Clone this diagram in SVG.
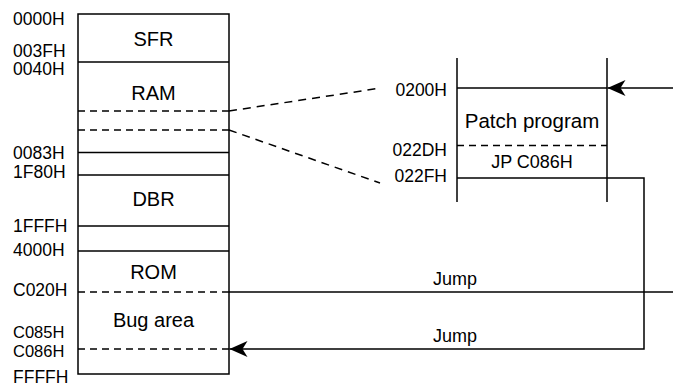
<svg xmlns="http://www.w3.org/2000/svg" width="673" height="387" viewBox="0 0 673 387">
<style>
  text { font-family: "Liberation Sans", Arial, sans-serif; fill: #000; }
  .addr { font-size: 17.5px; }
  .tight { font-size: 16.5px; }
  .blk { font-size: 20px; text-anchor: middle; }
  .lbl { font-size: 18px; text-anchor: middle; }
  .pa { font-size: 17.5px; text-anchor: end; }
  .ln { stroke: #000; stroke-width: 1.5; fill: none; }
  .dash { stroke: #000; stroke-width: 1.5; fill: none; stroke-dasharray: 7,5; }
  .sdash { stroke: #000; stroke-width: 1.5; fill: none; stroke-dasharray: 8,6; }
</style>
<defs>
  <marker id="arr" markerUnits="userSpaceOnUse" viewBox="-20 -10 22 20" markerWidth="22" markerHeight="20" refX="0" refY="0" orient="auto">
    <path d="M0,0 L-18,-8 L-13,0 L-18,8 Z" fill="#000"/>
  </marker>
</defs>
<rect width="673" height="387" fill="#fff"/>

<g id="memory-map">
  <rect class="ln" x="78" y="14" width="151" height="360"/>
  <line class="ln" x1="78" y1="62" x2="229" y2="62"/>
  <line class="dash" x1="78" y1="111" x2="229" y2="111"/>
  <line class="dash" x1="78" y1="130" x2="229" y2="130"/>
  <line class="ln" x1="78" y1="152.5" x2="229" y2="152.5"/>
  <line class="ln" x1="78" y1="175" x2="229" y2="175"/>
  <line class="ln" x1="78" y1="226" x2="229" y2="226"/>
  <line class="ln" x1="78" y1="251" x2="229" y2="251"/>
  <line class="dash" x1="78" y1="292" x2="229" y2="292"/>
  <line class="dash" x1="78" y1="349" x2="229" y2="349"/>
  <text class="blk" x="153.5" y="46">SFR</text>
  <text class="blk" x="153.5" y="100">RAM</text>
  <text class="blk" x="153.5" y="206">DBR</text>
  <text class="blk" x="153.5" y="279">ROM</text>
  <text class="blk" x="153.5" y="326.5">Bug area</text>
  <text class="addr" x="13" y="25">0000H</text>
  <text class="addr" x="13" y="57">003FH</text>
  <text class="addr" x="13" y="75">0040H</text>
  <text class="addr" x="13" y="159">0083H</text>
  <text class="addr" x="13" y="178">1F80H</text>
  <text class="addr" x="13" y="231.5">1FFFH</text>
  <text class="addr" x="13" y="255.5">4000H</text>
  <text class="addr" x="13" y="296">C020H</text>
  <text class="tight" x="13" y="338">C085H</text>
  <text class="tight" x="13" y="357">C086H</text>
  <text class="addr" x="13" y="382.5">FFFFH</text>
</g>

<g id="patch-program">
  <line class="ln" x1="457" y1="58" x2="457" y2="202"/>
  <line class="ln" x1="607" y1="58" x2="607" y2="202"/>
  <line class="ln" x1="457" y1="88" x2="607" y2="88"/>
  <line class="dash" x1="457" y1="145.5" x2="607" y2="145.5"/>
  <line class="ln" x1="457" y1="178" x2="607" y2="178"/>
  <text class="blk" x="532" y="127.5" style="font-size:20.5px">Patch program</text>
  <text class="lbl" x="532" y="167.5">JP C086H</text>
  <text class="pa" x="447" y="96">0200H</text>
  <text class="pa" x="447" y="156">022DH</text>
  <text class="pa" x="447" y="182">022FH</text>
</g>

<g id="connectors">
  <line class="sdash" x1="229" y1="111" x2="381" y2="88"/>
  <line class="sdash" x1="229" y1="130" x2="380" y2="183"/>
  <line class="ln" x1="673" y1="88" x2="607.5" y2="88" marker-end="url(#arr)"/>
  <line class="ln" x1="229" y1="292" x2="673" y2="292"/>
  <polyline class="ln" points="607,178 644,178 644,349 229.5,349" marker-end="url(#arr)"/>
  <text class="lbl" x="455" y="285">Jump</text>
  <text class="lbl" x="455" y="341.5">Jump</text>
</g>
</svg>
